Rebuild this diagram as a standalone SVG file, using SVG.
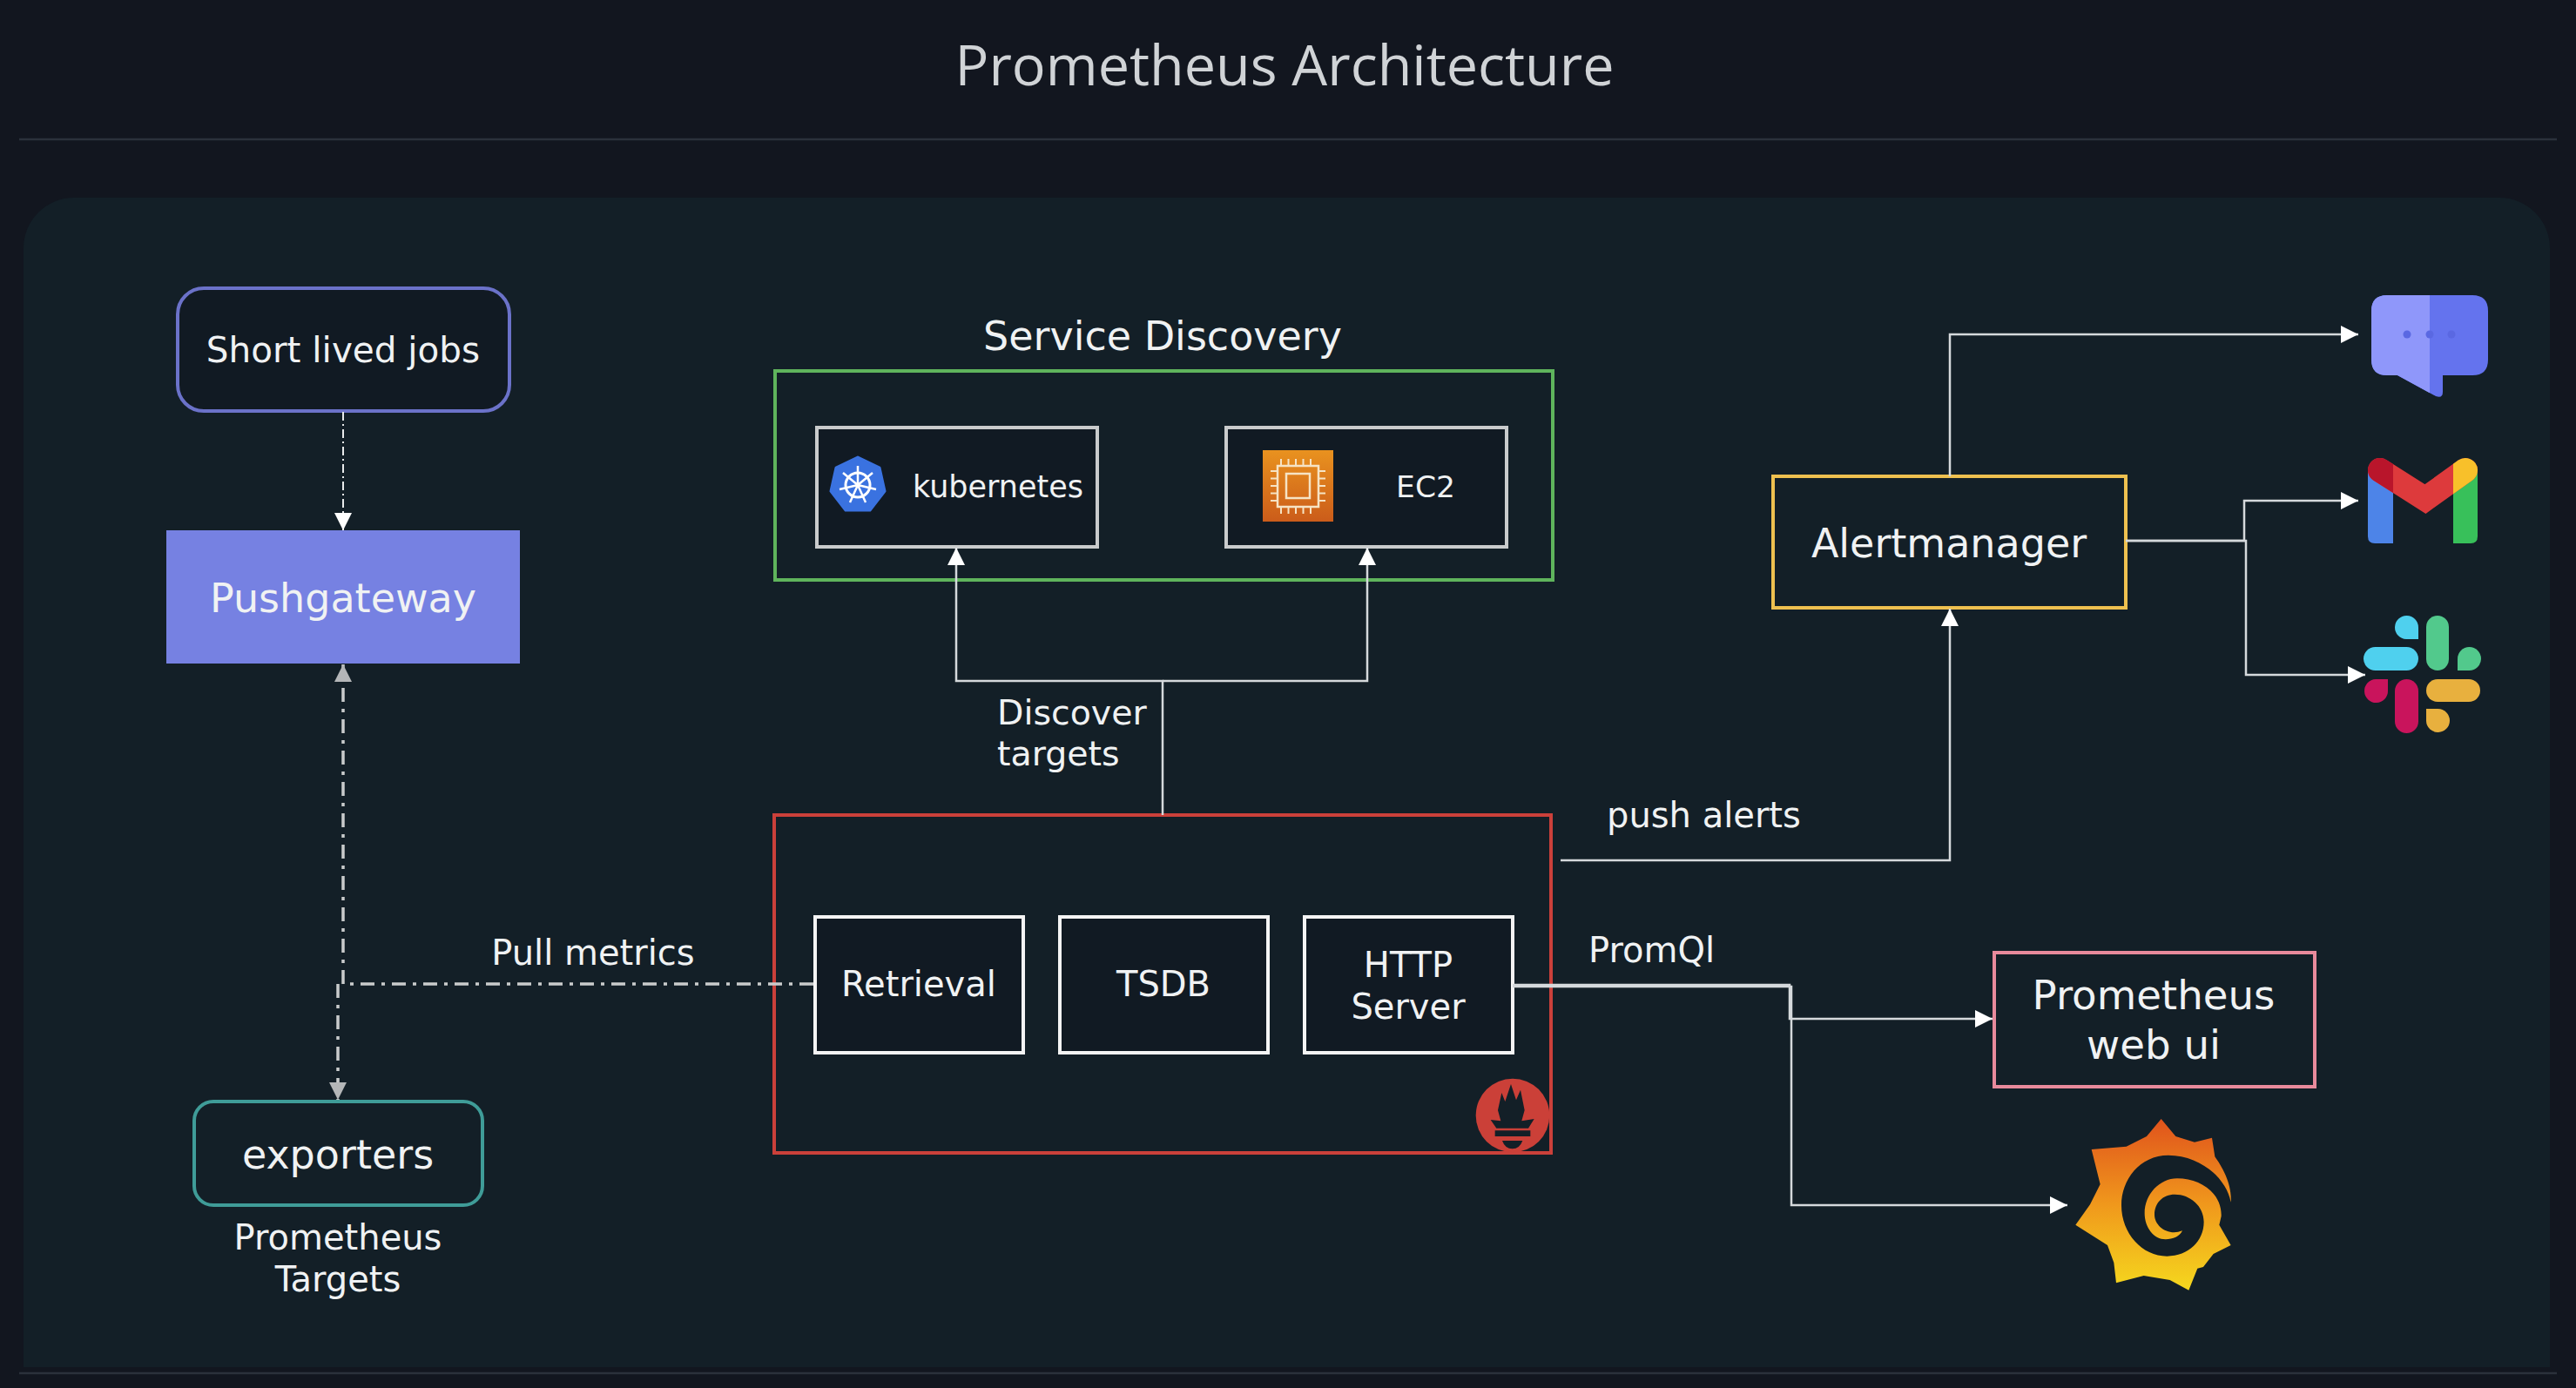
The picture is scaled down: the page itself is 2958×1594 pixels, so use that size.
<svg xmlns="http://www.w3.org/2000/svg" width="2958" height="1594" viewBox="0 0 2958 1594">
<style>
text{font-family:"DejaVu Sans",sans-serif;fill:#f0f2f3;text-anchor:middle}
.s{font-size:40px}
.l{font-size:46px}
.start{text-anchor:start}
.box{fill:#111a23;stroke-width:4}
.wht{stroke:#f4f4f4}
.gry{stroke:#c9cbcc}
.con{fill:none;stroke:#d5d9dc;stroke-width:2.5}
.dash{fill:none;stroke:#c9cbcc;stroke-width:3.5;stroke-dasharray:16 8 4 8}
</style>
<defs>
<marker id="aw" markerUnits="userSpaceOnUse" markerWidth="20" markerHeight="20" refX="20" refY="10" orient="auto"><path d="M0 0L20 10L0 20Z" fill="#fff"/></marker>
<marker id="ag" markerUnits="userSpaceOnUse" markerWidth="20" markerHeight="20" refX="20" refY="10" orient="auto"><path d="M0 0L20 10L0 20Z" fill="#b4b6b8"/></marker>
<linearGradient id="gf" x1="0" y1="0" x2="0" y2="1"><stop offset="0" stop-color="#e0531c"/><stop offset=".5" stop-color="#f0981c"/><stop offset="1" stop-color="#f5d81e"/></linearGradient>
<linearGradient id="ec" x1="0" y1="0" x2="0" y2="1"><stop offset="0" stop-color="#e9921f"/><stop offset="1" stop-color="#cb5c1a"/></linearGradient>
<clipPath id="cl"><rect x="2700" y="500" width="48" height="120"/></clipPath>
<clipPath id="cr"><rect x="2817" y="500" width="48" height="120"/></clipPath>
<clipPath id="chatL"><rect x="2700" y="320" width="90" height="150"/></clipPath>
</defs>
<rect width="2958" height="1594" fill="#12161f"/>
<g id="frame">
<path d="M22 160H2936M22 1577H2936" stroke="#2b313b" stroke-width="2.5" fill="none"/>
<path d="M27 1570V285A58 58 0 0 1 85 227H2870A58 58 0 0 1 2928 285V1570Z" fill="#131f27"/>
<text id="title" x="1475" y="98" style="font-family:'Open Sans',sans-serif;font-size:64.700px;fill:#d0d3d6">Prometheus Architecture</text>
</g>
<g id="short-lived-jobs"><rect class="box" x="204" y="331" width="381" height="141" rx="30" stroke="#6b72c9"/><text x="394" y="416" style="font-size:40.500px">Short lived jobs</text></g>
<g id="pushgateway"><rect x="191" y="609" width="406" height="153" fill="#7681e2"/><text class="l" x="394" y="703">Pushgateway</text></g>
<g id="exporters"><rect class="box" x="223" y="1265" width="331" height="119" rx="22" stroke="#3f9c98" style="fill:#131f27"/><text class="l" x="388" y="1342">exporters</text></g>
<g id="targets-label"><text class="s" x="388" y="1435">Prometheus</text><text class="s" x="388" y="1483">Targets</text></g>
<g id="service-discovery"><text class="l" x="1335" y="402">Service Discovery</text><rect x="890" y="426" width="893" height="240" fill="none" stroke="#5fb45c" stroke-width="4"/></g>
<g id="kubernetes"><rect class="box gry" x="938" y="491" width="322" height="137"/>
<path d="M985 525L1010 537L1016 564L999 586L971 586L954 564L960 537Z" fill="#3a72e0" stroke="#3a72e0" stroke-width="3" stroke-linejoin="round"/>
<g fill="none" stroke="#fff"><circle cx="985" cy="557" r="14" stroke-width="3"/><path stroke-width="2.5" d="M985 557V535M985 557L1002 543M985 557L1006 562M985 557L994 577M985 557L976 577M985 557L964 562M985 557L968 543"/></g>
<text x="1146" y="571" style="font-size:35px">kubernetes</text></g>
<g id="ec2"><rect class="box gry" x="1408" y="491" width="322" height="137"/>
<rect x="1450" y="517" width="81" height="82" fill="url(#ec)"/>
<g fill="none" stroke="#f6e3c4"><rect x="1467" y="535" width="47" height="47" stroke-width="2.5"/><rect x="1477" y="544" width="27" height="28" stroke-width="2.5"/><path stroke-width="8" stroke-dasharray="2 6.500" d="M1470 531H1512M1470 586H1512M1463 540V579M1518 540V579"/></g>
<text x="1637" y="571" style="font-size:34.500px">EC2</text></g>
<g id="discover-label"><text class="start" style="font-size:39.500px" x="1145" y="832">Discover</text><text class="start" style="font-size:39.500px" x="1145" y="879">targets</text></g>
<g id="prometheus-server"><rect x="889" y="936" width="892" height="388" fill="none" stroke="#cb403a" stroke-width="4"/>
<g transform="translate(1660 1200) scale(.3333)"><circle cx="231" cy="243" r="127" fill="#cb4038"/><path fill="#131f27" d="M155 258L190 262L180 225L193 165L205 195L225 135L243 190L258 155L272 225L262 262L305 255L285 287L175 287ZM170 295H292V315H170ZM195 330H265Q255 358 230 358Q205 358 195 330Z"/></g></g>
<g id="retrieval"><rect class="box wht" x="936" y="1053" width="239" height="156"/><text class="s" x="1055" y="1144">Retrieval</text></g>
<g id="tsdb"><rect class="box wht" x="1217" y="1053" width="239" height="156"/><text class="s" x="1336" y="1144">TSDB</text></g>
<g id="http-server"><rect class="box wht" x="1498" y="1053" width="239" height="156"/><text class="s" x="1617" y="1122">HTTP</text><text class="s" x="1617" y="1170">Server</text></g>
<g id="alertmanager"><rect x="2036" y="547" width="405" height="151" fill="#131f27" stroke="#eec04f" stroke-width="4"/><text class="l" x="2238" y="640">Alertmanager</text></g>
<g id="prometheus-web-ui"><rect x="2290" y="1094" width="368" height="154" fill="#131f27" stroke="#e88a9c" stroke-width="4"/><text x="2473" y="1159" style="font-size:46.700px">Prometheus</text><text x="2473" y="1216" style="font-size:46.700px">web ui</text></g>
<g id="chat-icon"><path d="M2741 339H2839Q2857 339 2857 357V413Q2857 431 2839 431H2805V450Q2805 458 2797 455L2753 431H2741Q2723 431 2723 413V357Q2723 339 2741 339Z" fill="#6473ee"/><path d="M2741 339H2839Q2857 339 2857 357V413Q2857 431 2839 431H2805V450Q2805 458 2797 455L2753 431H2741Q2723 431 2723 413V357Q2723 339 2741 339Z" fill="#8f97fa" clip-path="url(#chatL)"/><g fill="#5a68e2"><circle cx="2764" cy="384" r="4.500"/><circle cx="2790" cy="384" r="4.500"/><circle cx="2815" cy="384" r="4.500"/></g></g>
<g id="gmail-icon"><path d="M2719 539H2748V624H2727Q2719 624 2719 616Z" fill="#4d84e8"/><path d="M2817 539H2845V616Q2845 624 2837 624H2817Z" fill="#38c05a"/>
<path d="M2733 540L2785 573L2831 540" fill="none" stroke="#dd3a3c" stroke-width="28" stroke-linecap="round"/>
<path d="M2733 540L2785 573L2831 540" fill="none" stroke="#b9152b" stroke-width="28" stroke-linecap="round" clip-path="url(#cl)"/>
<path d="M2733 540L2785 573L2831 540" fill="none" stroke="#f8c02a" stroke-width="28" stroke-linecap="round" clip-path="url(#cr)"/></g>
<g id="slack-icon">
<g fill="#4fd0ee"><path d="M2777 734H2763A13.500 13.500 0 1 1 2777 720.500Z"/><rect x="2714" y="743" width="63" height="27" rx="13.500"/></g>
<g fill="#52c98c"><rect x="2786" y="707" width="26" height="63" rx="13"/><path d="M2822 770V756.500A13.500 13.500 0 1 1 2835.500 770Z"/></g>
<g fill="#c9145c"><path d="M2742 780V793A13.500 13.500 0 1 1 2728 780Z"/><rect x="2750" y="780" width="27" height="62" rx="13.500"/></g>
<g fill="#e8b03e"><rect x="2786" y="780" width="62" height="26" rx="13"/><path d="M2786 814H2799.500A13.500 13.500 0 1 1 2786 828Z"/></g></g>
<g id="grafana-icon"><path transform="translate(2340 1260) scale(.3333)" fill="url(#gf)" d="M425 75L475 135L540 155L600 140L610 205C635 240 670 300 665 362C650 280 560 200 450 200C350 200 288 285 288 372C288 470 360 548 445 548C520 548 572 495 572 430C572 375 525 335 472 335C430 335 402 365 402 405C402 445 450 480 498 460C490 480 465 490 440 490C400 490 368 450 368 400C368 335 420 280 480 280C565 280 635 335 632 410L625 440L665 510L605 540L570 585L550 590L520 665L455 630L365 615L270 640L262 570L240 510L130 440L180 370L215 300L185 180L305 170L375 135Z"/></g>
<g id="connectors">
<path d="M394 473V609" fill="none" stroke="#e8eaeb" stroke-width="2" stroke-dasharray="10 4 2 4" marker-end="url(#aw)"/>
<path class="dash" d="M934 1130H394V763" marker-end="url(#ag)"/>
<path class="dash" d="M388 1130V1263" marker-end="url(#ag)"/>
<path class="con" d="M1335 936V782H1098V629" marker-end="url(#aw)"/>
<path class="con" d="M1335 782H1570V629" marker-end="url(#aw)"/>
<path class="con" d="M1792 988H2239V699" marker-end="url(#aw)"/>
<path class="con" d="M2239 547V384H2708" marker-end="url(#aw)"/>
<path class="con" d="M2441 621H2577V575H2708" marker-end="url(#aw)"/>
<path class="con" d="M2441 621H2579V775H2716" marker-end="url(#aw)"/>
<path class="con" d="M1737 1131H2055V1170H2288" marker-end="url(#aw)"/>
<path class="con" d="M1737 1133H2057V1384H2374" marker-end="url(#aw)"/>
</g>
<g id="edge-labels"><text class="s" x="681" y="1108">Pull metrics</text><text class="s start" x="1845" y="950">push alerts</text><text class="s start" x="1824" y="1105">PromQl</text></g>
</svg>
